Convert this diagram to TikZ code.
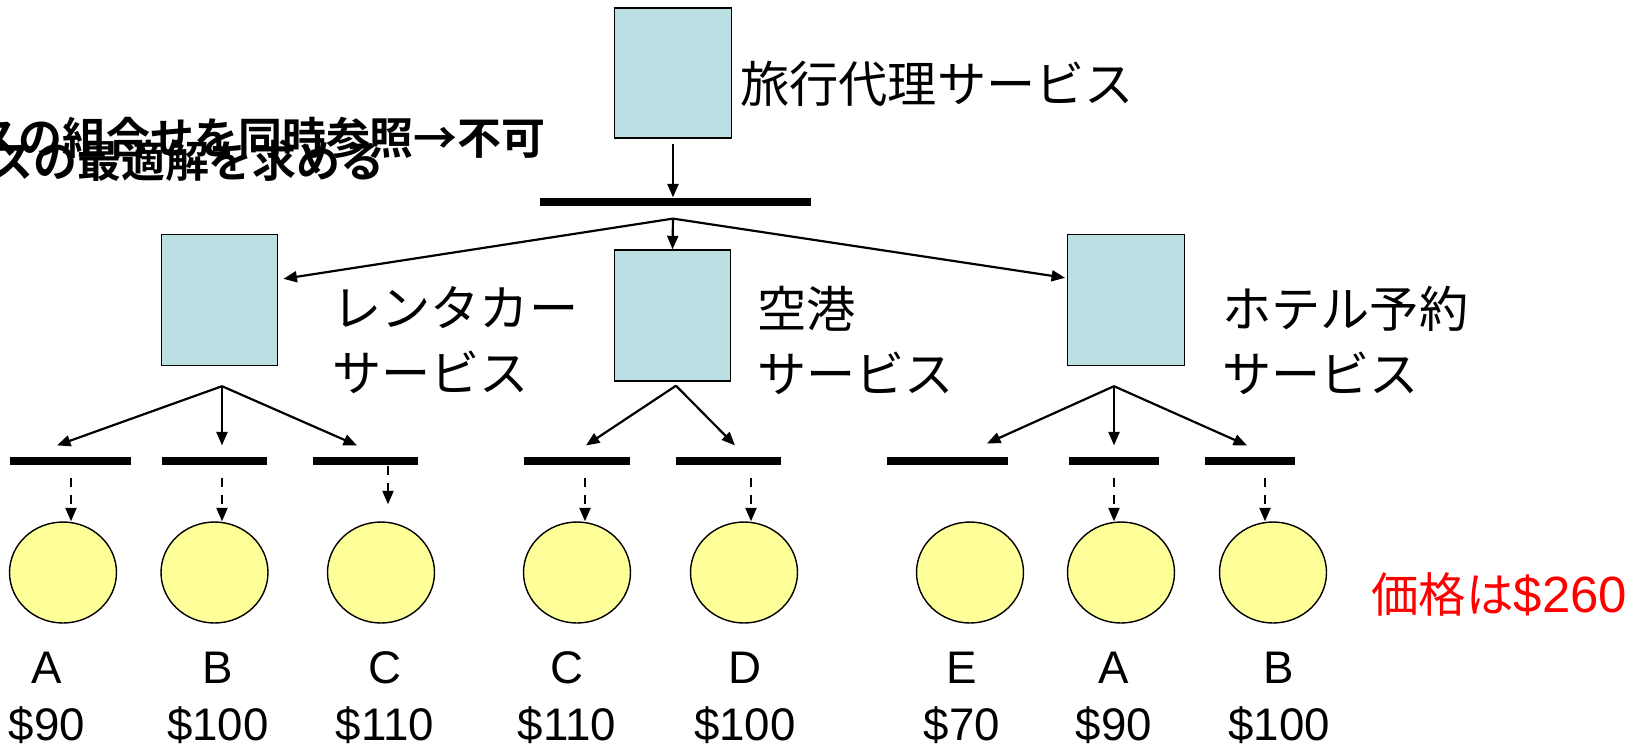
\documentclass[tikz,border=0pt]{standalone}
\usepackage{fontspec}
\setmainfont{Liberation Sans}
\newfontfamily\jp{Noto Sans CJK JP}
\newfontfamily\jpb{Noto Sans CJK JP Bold}
\usetikzlibrary{arrows.meta,shapes.geometric}
\definecolor{svcblue}{RGB}{187,224,227}
\definecolor{optyellow}{RGB}{255,255,153}
\definecolor{pricered}{RGB}{255,0,0}
\tikzset{
  svc/.style={draw=black, line width=0.8pt, fill=svcblue, inner sep=0,
    minimum width=2.33cm, minimum height=2.62cm},
  barnode/.style={fill=black, inner sep=0, minimum height=0.17cm},
  opt/.style={ellipse, draw=black, fill=optyellow, line width=0.8pt, inner sep=0,
    minimum width=2.14cm, minimum height=2.02cm},
  conn/.style={-{Triangle[length=0.27cm,width=0.22cm]}, line width=1.25pt},
  dconn/.style={conn, dash pattern=on 0.18cm off 0.16cm},
  jlabel/.style={font=\jp\fontsize{28}{37}\selectfont, inner sep=0, align=left},
  letter/.style={font=\fontsize{26}{30}\selectfont, inner sep=0, anchor=base},
  ovl/.style={font=\jpb\fontsize{25}{30}\selectfont, inner sep=0, anchor=east},
}
\begin{document}
\begin{tikzpicture}[x=0.02cm,y=-0.02cm]
\useasboundingbox (0,0) rectangle (1639,748);
\fill[white] (0,0) rectangle (1639,748);

% overlapping bold text (clipped at the left edge)
\begin{scope}
\clip (0,0) rectangle (1639,748);
\node[ovl] (t1) at (546,138) {全サービスの組合せを同時参照→不可};
\node[ovl] (t2) at (385,161) {各サービスの最適解を求める};
\end{scope}

% service boxes
\node[svc, minimum height=2.6cm] (top) at (673,73) {};
\node[jlabel, anchor=west] (toplab) at (740,84) {旅行代理サービス};
\node[barnode, minimum width=5.42cm] (bar0) at (675.5,202) {};

\node[svc] (L) at (219.5,300) {};
\node[svc] (M) at (672.5,315.5) {};
\node[svc] (R) at (1126,300) {};

\node[jlabel, anchor=west] (Llab) at (332,340.5) {レンタカー\\サービス};
\node[jlabel, anchor=west] (Mlab) at (757,340.5) {空港\\サービス};
\node[jlabel, anchor=west] (Rlab) at (1222,340.5) {ホテル予約\\サービス};

% bars
\node[barnode, minimum width=2.42cm] (b1) at (70.5,461) {};
\node[barnode, minimum width=2.1cm]  (b2) at (214.5,461) {};
\node[barnode, minimum width=2.1cm]  (b3) at (365.5,461) {};
\node[barnode, minimum width=2.12cm] (b4) at (577,461) {};
\node[barnode, minimum width=2.1cm]  (b5) at (728.5,461) {};
\node[barnode, minimum width=2.42cm] (b6) at (947.5,461) {};
\node[barnode, minimum width=1.8cm]  (b7) at (1114,461) {};
\node[barnode, minimum width=1.8cm]  (b8) at (1250,461) {};

% options
\node[opt] (c1) at (63,572.5) {};
\node[opt] (c2) at (214.5,572.5) {};
\node[opt] (c3) at (381,572.5) {};
\node[opt] (c4) at (577,572.5) {};
\node[opt] (c5) at (744,572.5) {};
\node[opt] (c6) at (970,572.5) {};
\node[opt] (c7) at (1121,572.5) {};
\node[opt] (c8) at (1273,572.5) {};

% letters and prices
\node[letter] (l1) at (47,683.5) {A};    \node[letter] (p1) at (47,740.5) {\$90};
\node[letter] (l2) at (218,683.5) {B};   \node[letter] (p2) at (218,740.5) {\$100};
\node[letter] (l3) at (385,683.5) {C};   \node[letter] (p3) at (385,740.5) {\$110};
\node[letter] (l4) at (567,683.5) {C};   \node[letter] (p4) at (567,740.5) {\$110};
\node[letter] (l5) at (745,683.5) {D};   \node[letter] (p5) at (745,740.5) {\$100};
\node[letter] (l6) at (962,683.5) {E};   \node[letter] (p6) at (962,740.5) {\$70};
\node[letter] (l7) at (1114,683.5) {A};  \node[letter] (p7) at (1114,740.5) {\$90};
\node[letter] (l8) at (1279,683.5) {B};  \node[letter] (p8) at (1279,740.5) {\$100};

\node[anchor=west, inner sep=0, text=pricered] (price) at (1371,594)
  {{\jp\fontsize{27}{32}\selectfont 価格は}{\fontsize{29}{34}\selectfont\$260}};

% top level connectors
\draw[conn] ([yshift=-0.1cm]top.south) -- (top.south |- bar0.north);
\coordinate (T0) at ([shift={(-2.5,12)}]bar0.south);
\draw[conn] (T0) -- ([shift={(5,45)}]L.north east);
\draw[conn] (T0) -- (M.north);
\draw[conn] (T0) -- ([shift={(-2,44)}]R.north west);

% second level connectors
\coordinate (Ls) at ([shift={(2.5,20)}]L.south);
\draw[conn] (Ls) -- ([shift={(-13.5,-11)}]b1.north);
\draw[conn] (Ls) -- ([shift={(7.5,-11)}]b2.north);
\draw[conn] (Ls) -- ([shift={(-8.5,-11)}]b3.north);
\coordinate (Ms) at ([shift={(3.5,4)}]M.south);
\draw[conn] (Ms) -- ([shift={(9,-11)}]b4.north);
\draw[conn] (Ms) -- ([shift={(6.5,-11)}]b5.north);
\coordinate (Rs) at ([shift={(-12,20)}]R.south);
\draw[conn] (Rs) -- ([shift={(39.5,-13)}]b6.north);
\draw[conn] (Rs) -- ([shift={(0,-11)}]b7.north);
\draw[conn] (Rs) -- ([shift={(-3,-11)}]b8.north);

% dashed selection arrows
\draw[dconn] ([shift={(0.5,12)}]b1.south) -- ([shift={(0.5,0)}]b1.south |- c1.north);
\draw[dconn] ([shift={(7.5,12)}]b2.south) -- ([shift={(7.5,0)}]b2.south |- c2.north);
\draw[dconn] ([shift={(22.5,0)}]b3.south) -- ([shift={(22.5,-17)}]b3.south |- c3.north);
\draw[dconn] ([shift={(8,12)}]b4.south) -- ([shift={(8,0)}]b4.south |- c4.north);
\draw[dconn] ([shift={(22.5,12)}]b5.south) -- ([shift={(22.5,0)}]b5.south |- c5.north);
\draw[dconn] ([shift={(0,12)}]b7.south) -- (b7.south |- c7.north);
\draw[dconn] ([shift={(15,12)}]b8.south) -- ([shift={(15,0)}]b8.south |- c8.north);
\end{tikzpicture}
\end{document}
